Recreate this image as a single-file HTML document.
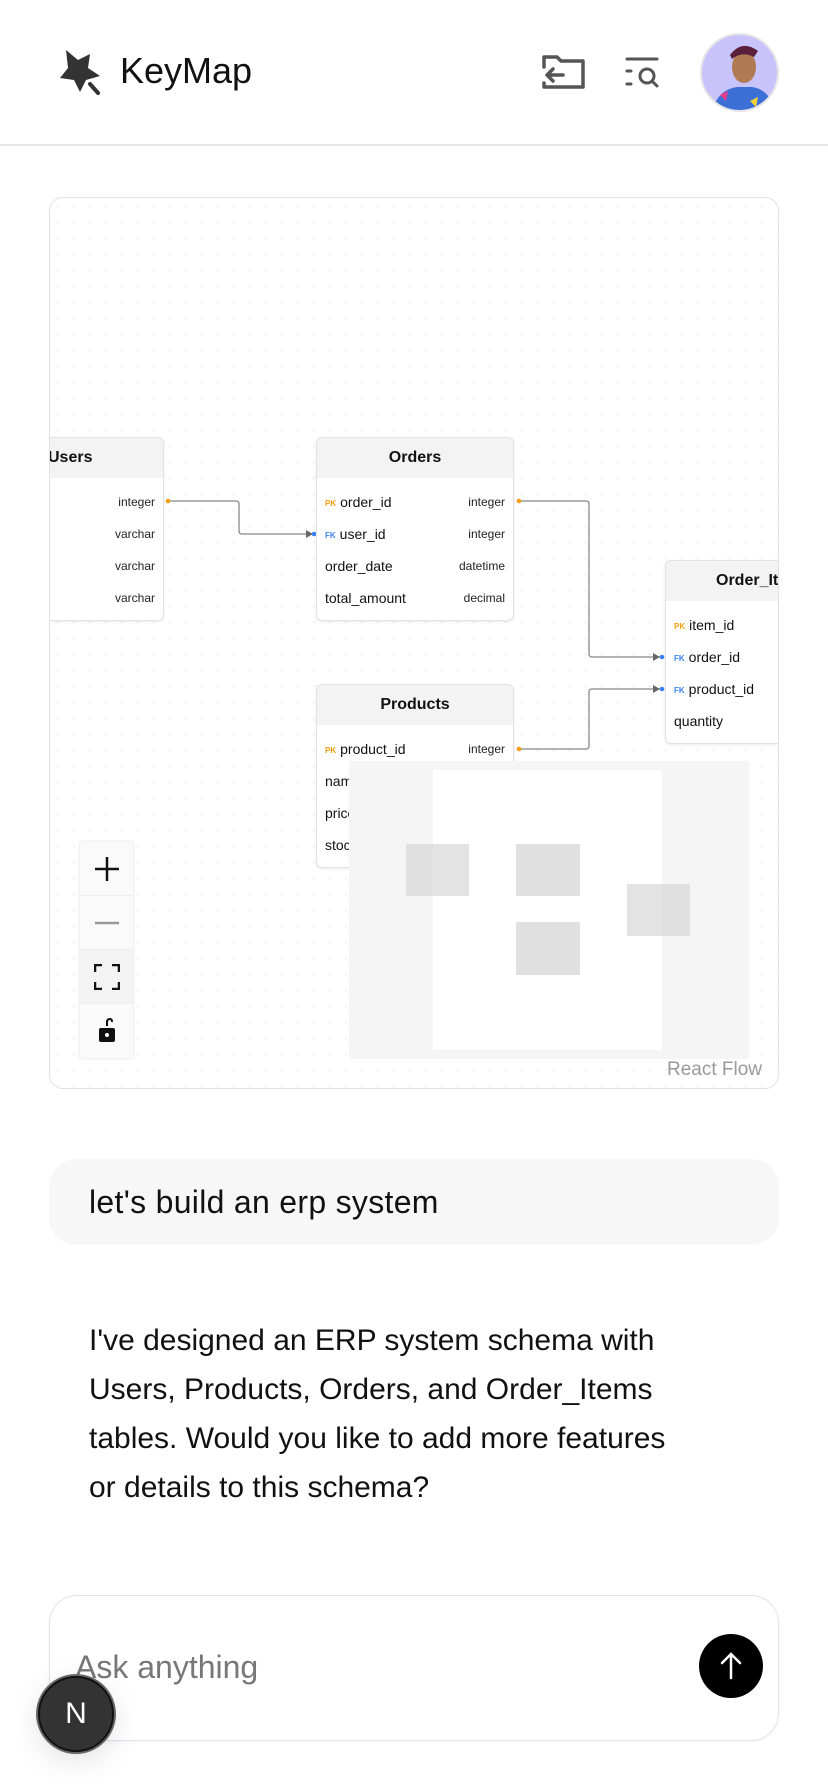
<!DOCTYPE html>
<html><head><meta charset="utf-8"><style>
*{box-sizing:border-box;margin:0;padding:0}
body{width:828px;height:1792px;background:#fff;font-family:"Liberation Sans",sans-serif;position:relative;overflow:hidden;color:#111}
.abs{position:absolute}
.canvas{left:49px;top:197px;width:730px;height:892px;border:1.5px solid #e2e2e2;border-radius:14px;overflow:hidden;background-color:#fff;background-image:radial-gradient(#ececec 0.8px,transparent 1px);background-size:16px 16px}
.node{position:absolute;background:#fff;border:1px solid #e3e3e3;border-radius:6px;box-shadow:0 1px 3px rgba(0,0,0,.08);overflow:hidden}
.node .h{height:40px;background:#f3f3f3;font-size:16px;font-weight:bold;text-align:center;line-height:40px;color:#111;margin-bottom:8px}
.node .r{height:32px;position:relative;font-size:14px;line-height:32px;padding-left:8px}
.node .r .t{position:absolute;right:8px;top:0;font-size:12px;color:#222}
.pk{color:#f59e0b;font-size:8px;font-weight:bold;margin-right:4px;vertical-align:1px}
.fk{color:#3b82f6;font-size:8px;font-weight:bold;margin-right:4px;vertical-align:1px}
.ctrl{position:absolute;left:30px;width:53px;background:#fafafa;box-shadow:0 0 3px rgba(0,0,0,.15)}
.ctrl div{height:54px;border-bottom:1px solid #eee;display:flex;align-items:center;justify-content:center}
</style></head><body>
<!-- header -->
<svg class="abs" style="left:56px;top:48px" width="50" height="50" viewBox="0 0 50 50"><path d="M10 2 L22 12 L34 6 L32 20 L44 28 L30 32 L24 44 L18 32 L4 30 L12 20 Z" fill="#333"/><path d="M34 36 L42 45" stroke="#333" stroke-width="4" stroke-linecap="round"/></svg>
<div class="abs" style="left:120px;top:50px;font-size:36px;color:#111">KeyMap</div>
<svg class="abs" style="left:541px;top:53px" width="46" height="38" viewBox="0 0 46 38" fill="none" stroke="#555" stroke-width="3.5" stroke-linejoin="round" stroke-linecap="round"><path d="M3 14 V4 H16 L20 8 H42 V34 H3 V30"/><path d="M22 22 H6 M12 16 L6 22 L12 28"/></svg>
<svg class="abs" style="left:625px;top:56px" width="36" height="34" viewBox="0 0 36 34" fill="none" stroke="#555" stroke-width="3" stroke-linecap="round"><path d="M2 3 H32 M2 15 H6 M2 28 H6"/><circle cx="22" cy="20" r="7"/><path d="M27 25 L32 30"/></svg>
<div class="abs" style="left:700px;top:33px;width:79px;height:79px;border-radius:50%;background:#c9c3fb;border:2px solid #e6e6e6;overflow:hidden">
<svg width="79" height="79" viewBox="0 0 79 79"><path d="M10 79 Q14 55 35 52 L50 52 Q70 55 72 79Z" fill="#3b6fd6"/><ellipse cx="42" cy="32" rx="12" ry="16" fill="#b07a55"/><path d="M28 20 Q40 4 56 16 L52 22 Q40 16 30 24Z" fill="#5a1f3a"/><path d="M18 60 L26 56 L24 66Z" fill="#e83a8a"/><path d="M48 66 L56 62 L54 72Z" fill="#f5d23a"/></svg></div>
<div class="abs" style="left:0;top:144px;width:828px;height:2px;background:#e6e6e6"></div>

<!-- canvas -->
<div class="abs canvas">
<svg class="abs" style="left:0;top:0" width="730" height="892" fill="none" stroke="#888" stroke-width="1.3">
<path d="M116 303 H186 Q189 303 189 306 V333 Q189 336 192 336 H262"/>
<path d="M469 303 H536 Q539 303 539 306 V456 Q539 459 542 459 H610"/>
<path d="M469 551 H536 Q539 551 539 548 V494 Q539 491 542 491 H610"/>
<path d="M256 332 L263 336 L256 340Z M603 455 L610 459 L603 463Z M603 487 L610 491 L603 495Z" fill="#666" stroke="none"/>
<circle cx="118" cy="303" r="2.3" fill="#f59e0b" stroke="none"/><circle cx="469" cy="303" r="2.3" fill="#f59e0b" stroke="none"/><circle cx="469" cy="551" r="2.3" fill="#f59e0b" stroke="none"/>
<circle cx="264" cy="336" r="2.3" fill="#3b82f6" stroke="none"/><circle cx="612" cy="459" r="2.3" fill="#3b82f6" stroke="none"/><circle cx="612" cy="491" r="2.3" fill="#3b82f6" stroke="none"/>
</svg>
<div class="node" style="left:-80px;top:239px;width:194px;height:184px"><div class="h" style="text-align:left;padding-left:77px">Users</div>
<div class="r"><span class="t">integer</span></div><div class="r"><span class="t">varchar</span></div><div class="r"><span class="t">varchar</span></div><div class="r"><span class="t">varchar</span></div></div>
<div class="node" style="left:266px;top:239px;width:198px;height:184px"><div class="h">Orders</div>
<div class="r"><span class="pk">PK</span>order_id<span class="t">integer</span></div><div class="r"><span class="fk">FK</span>user_id<span class="t">integer</span></div><div class="r">order_date<span class="t">datetime</span></div><div class="r">total_amount<span class="t">decimal</span></div></div>
<div class="node" style="left:615px;top:362px;width:198px;height:184px"><div class="h" style="text-align:left;padding-left:50px">Order_Items</div>
<div class="r"><span class="pk">PK</span>item_id<span class="t">integer</span></div><div class="r"><span class="fk">FK</span>order_id<span class="t">integer</span></div><div class="r"><span class="fk">FK</span>product_id<span class="t">integer</span></div><div class="r">quantity<span class="t">integer</span></div></div>
<div class="node" style="left:266px;top:486px;width:198px;height:184px"><div class="h">Products</div>
<div class="r"><span class="pk">PK</span>product_id<span class="t">integer</span></div><div class="r">name<span class="t">varchar</span></div><div class="r">price<span class="t">decimal</span></div><div class="r">stock<span class="t">integer</span></div></div>
<!-- minimap -->
<div class="abs" style="left:299px;top:563px;width:400px;height:298px;background:#f5f5f5">
<div class="abs" style="left:84px;top:9px;width:229px;height:280px;background:#fff"></div>
<div class="abs" style="left:57px;top:83px;width:63px;height:52px;background:rgba(215,215,215,.7)"></div>
<div class="abs" style="left:167px;top:83px;width:64px;height:52px;background:#e0e0e0"></div>
<div class="abs" style="left:167px;top:161px;width:64px;height:53px;background:#e0e0e0"></div>
<div class="abs" style="left:278px;top:123px;width:63px;height:52px;background:rgba(215,215,215,.7)"></div>
</div>
<div class="abs" style="left:617px;top:861px;font-size:19px;color:#999">React Flow</div>
<div class="ctrl" style="top:644px">
<div><svg width="26" height="26"><path d="M13 1V25M1 13H25" stroke="#111" stroke-width="2.5"/></svg></div>
<div><svg width="26" height="26"><path d="M1 13H25" stroke="#999" stroke-width="2.5"/></svg></div>
<div style="background:#f3f3f3"><svg width="26" height="26" fill="none" stroke="#111" stroke-width="2.5"><path d="M1 8V1H8M18 1H25V8M25 18V25H18M8 25H1V18"/></svg></div>
<div style="border:none"><svg width="20" height="26"><path d="M10 8V4Q10 1 13 1Q15 1 15 4" fill="none" stroke="#111" stroke-width="2"/><rect x="2" y="10" width="16" height="14" rx="2" fill="#111"/><circle cx="10" cy="17" r="2" fill="#fff"/></svg></div>
</div>
</div>

<!-- user bubble -->
<div class="abs" style="left:49px;top:1159px;width:730px;height:86px;background:#f7f7f7;border-radius:28px"></div>
<div class="abs" style="left:89px;top:1184px;font-size:32px;letter-spacing:0.3px;color:#111">let's build an erp system</div>

<div class="abs" style="left:89px;top:1316px;width:595px;font-size:30px;line-height:49px;color:#111">I've designed an ERP system schema with Users, Products, Orders, and Order_Items tables. Would you like to add more features or details to this schema?</div>

<!-- input -->
<div class="abs" style="left:49px;top:1595px;width:730px;height:146px;border:1.5px solid #e2e4ea;border-radius:28px;box-shadow:0 1px 3px rgba(0,0,0,.05)"></div>
<div class="abs" style="left:75px;top:1649px;font-size:32px;color:#777">Ask anything</div>
<div class="abs" style="left:699px;top:1634px;width:64px;height:64px;border-radius:50%;background:#000"><svg width="64" height="64"><path d="M32 20V44M23 29L32 20L41 29" fill="none" stroke="#fff" stroke-width="2.5" stroke-linecap="round"/></svg></div>
<div class="abs" style="left:38px;top:1676px;width:76px;height:76px;border-radius:50%;background:#333;border:2px solid #111;box-shadow:0 0 0 2px #666,0 8px 30px rgba(0,0,0,.12);color:#fff;font-size:30px;text-align:center;line-height:72px">N</div>
</body></html>
